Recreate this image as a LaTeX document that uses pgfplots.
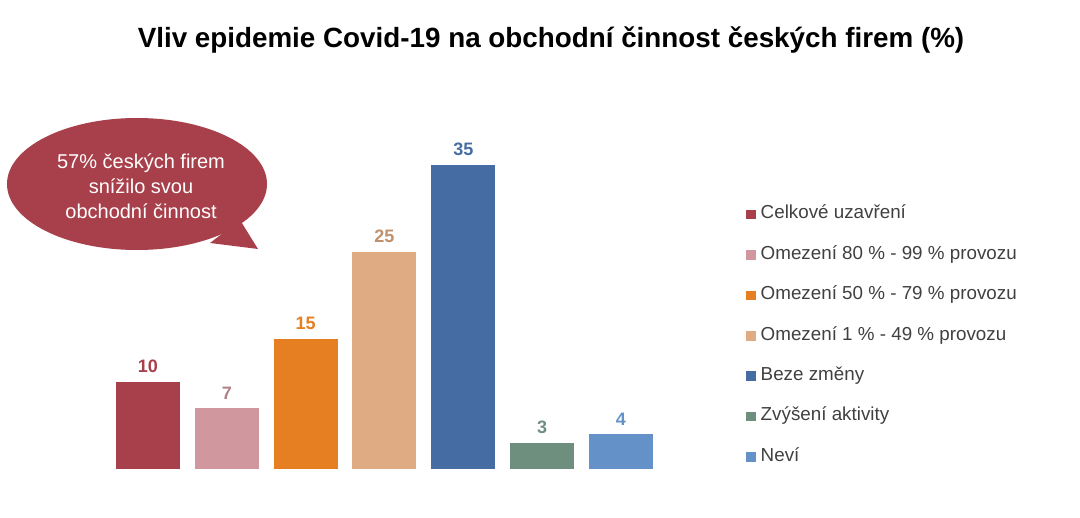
\documentclass[border=0pt]{standalone}
\usepackage{pgfplots}
\pgfplotsset{compat=1.18}
\usepackage{fontspec}
\setmainfont{Liberation Sans}
\definecolor{c1}{HTML}{A8404B}
\definecolor{c2}{HTML}{D0989E}
\definecolor{c3}{HTML}{E67E22}
\definecolor{c4}{HTML}{DFAB82}
\definecolor{c5}{HTML}{466DA3}
\definecolor{c6}{HTML}{6E8E7E}
\definecolor{c7}{HTML}{6492C8}
\definecolor{txt}{HTML}{404040}
\begin{document}
\begin{tikzpicture}
\begin{scope}[x=0.5pt,y=-0.5pt]
\useasboundingbox (0,0) rectangle (1080,518);
\node[font=\bfseries\fontsize{13.9pt}{16pt}\selectfont] at (551,40) {Vliv epidemie Covid-19 na obchodní činnost českých firem (\%)};
% speech bubble
\fill[c1] (137,184) ellipse [x radius=130, y radius=66];
\fill[c1] (240,220) -- (258,249) -- (210,243) -- cycle;
\node[white,align=center,font=\fontsize{10pt}{12.6pt}\selectfont] at (141,186) {57\% českých firem\\snížilo svou\\obchodní činnost};
\end{scope}
\begin{axis}[
  at={(74pt,-234.5pt)}, anchor=origin,
  x=39.415pt, y=4.343pt,
  xmin=-0.5, xmax=6.5, ymin=0, ymax=36,
  hide axis, clip=false,
  /pgf/number format/assume math mode=true,
  every node near coord/.append style={font=\bfseries\fontsize{9pt}{10pt}\selectfont, anchor=south, yshift=1pt},
  legend style={at={(1.155,0.842)}, anchor=north west, draw=none, fill=none,
    font=\fontsize{9.4pt}{11pt}\selectfont, text=txt,
    row sep=11.9pt, inner sep=0pt,
    nodes={inner sep=0pt, text height=6.4pt, text depth=1.9pt, anchor=base west}},
  legend cell align=left,
  legend image code/.code={\fill[#1] (0pt,-0.2pt) rectangle (4.8pt,4.6pt); \path (7.2pt,0pt);},
]
\addplot[ybar, bar width=32pt, fill=c1, draw=none, nodes near coords, every node near coord/.append style={c1}] coordinates {(0,10)};
\addlegendentry{Celkové uzavření}
\addplot[ybar, bar width=32pt, fill=c2, draw=none, nodes near coords, every node near coord/.append style={c2!85!black}] coordinates {(1,7)};
\addlegendentry{Omezení 80 \% - 99 \% provozu}
\addplot[ybar, bar width=32pt, fill=c3, draw=none, nodes near coords, every node near coord/.append style={c3}] coordinates {(2,15)};
\addlegendentry{Omezení 50 \% - 79 \% provozu}
\addplot[ybar, bar width=32pt, fill=c4, draw=none, nodes near coords, every node near coord/.append style={c4!85!black}] coordinates {(3,25)};
\addlegendentry{Omezení 1 \% - 49 \% provozu}
\addplot[ybar, bar width=32pt, fill=c5, draw=none, nodes near coords, every node near coord/.append style={c5}] coordinates {(4,35)};
\addlegendentry{Beze změny}
\addplot[ybar, bar width=32pt, fill=c6, draw=none, nodes near coords, every node near coord/.append style={c6}] coordinates {(5,3)};
\addlegendentry{Zvýšení aktivity}
\addplot[ybar, bar width=32pt, fill=c7, draw=none, nodes near coords, every node near coord/.append style={c7}] coordinates {(6,4)};
\addlegendentry{Neví}
\end{axis}
\end{tikzpicture}
\end{document}
